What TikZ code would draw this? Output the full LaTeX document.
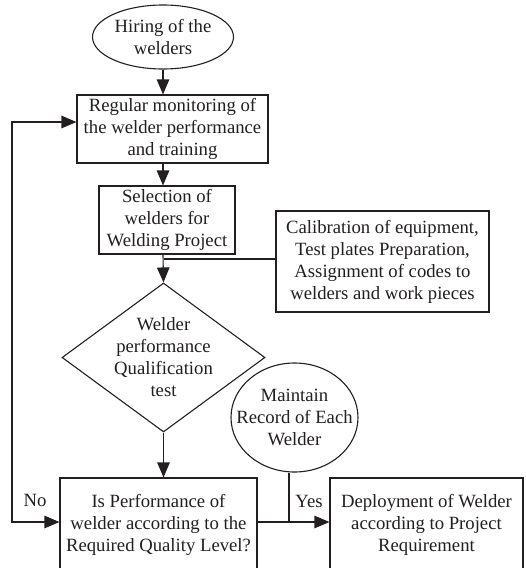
\documentclass[tikz,border=0pt]{standalone}
\usepackage{fontspec}
\setmainfont{Liberation Serif}
\usetikzlibrary{shapes.geometric,arrows.meta}
\definecolor{ink}{RGB}{35,31,32}
\tikzset{
  tip/.tip={Triangle[length=15pt,width=12.5pt]},
}
\begin{document}
\begin{tikzpicture}[x=1pt,y=-1pt,
  every node/.style={font=\fontsize{18.7}{22}\selectfont, text=ink, align=center, inner sep=0pt},
  box/.style={draw=ink, line width=1.1pt, rectangle},
  oval/.style={draw=ink, line width=1.1pt, ellipse},
  ln/.style={draw=ink, line width=1.1pt},
  arr/.style={ln, -tip}]
\useasboundingbox (0,0) rectangle (526,568);
\fill[white] (0,0) rectangle (526,568);
\clip (0,0) rectangle (526,568);
% nodes
\node[oval, minimum width=141pt, minimum height=64pt] (hire) at (163,37) {};
\node (hiretext) at (hire.center) {Hiring of the\\welders};
\node[box, minimum width=191pt, minimum height=68pt] (mon) at (172.5,129) {Regular monitoring of\\the welder performance\\and training};
\node[box, minimum width=136pt, minimum height=68pt] (sel) at (167,220) {Selection of\\welders for\\Welding Project};
\node[box, minimum width=213pt, minimum height=101pt] (cal) at (382.5,261.5) {Calibration of equipment,\\Test plates Preparation,\\Assignment of codes to\\welders and work pieces};
\node[draw=ink, line width=1.1pt, diamond, minimum width=203pt, minimum height=149pt] (dia) at (163.5,357.5) {};
\node (diatext) at (dia.center) {Welder\\performance\\Qualification\\test};
\node[oval, minimum width=127pt, minimum height=109pt] (maint) at (294.5,417.5) {};
\node (mainttext) at (maint.center) {Maintain\\Record of Each\\Welder};
\node[box, minimum width=197pt, minimum height=94pt] (perf) at (158.5,525) {Is Performance of\\welder according to the\\Required Quality Level?};
\node[box, minimum width=193pt, minimum height=94pt] (dep) at (426.5,525) {Deployment of Welder\\according to Project\\Requirement};
\node (no) at (35,500) {No};
\node (yes) at (309,501) {Yes};
% connectors
\draw[arr] (hire.south) -- (hire.south |- mon.north);
\draw[arr] (hire.south |- mon.south) -- (hire.south |- sel.north);
\draw[arr] (hire.south |- sel.south) -- (dia.north);
\coordinate (calj) at (164,259);
\draw[ln] (cal.west |- calj) -- (calj);
\draw[arr] (dia.south) -- (dia.south |- perf.north);
\coordinate (yj) at (289,522);
\draw[arr] (perf.east |- yj) -- (dep.west |- yj);
\draw[ln] (maint.south -| yj) -- (yj);
\coordinate (lb) at (12,522);
\coordinate (lt) at (12,122);
\draw[ln, tip-tip] (perf.west |- lb) -- (lb) -- (lt) -- (mon.west |- lt);
\end{tikzpicture}
\end{document}
